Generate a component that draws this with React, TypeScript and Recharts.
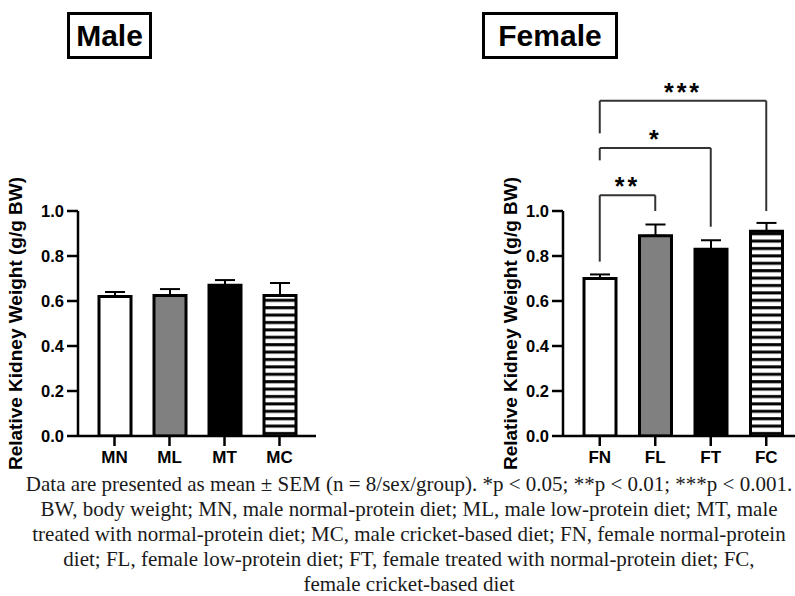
import React from 'react';
import { BarChart, Bar, Cell, XAxis, YAxis, ErrorBar, ReferenceLine } from 'recharts';

// values (mean, SEM)
const maleGroups = ['MN', 'ML', 'MT', 'MC'];
const maleMeans = [0.62, 0.625, 0.67, 0.625];
const maleSem = [0.02, 0.028, 0.023, 0.055];

const femaleGroups = ['FN', 'FL', 'FT', 'FC'];
const femaleMeans = [0.7, 0.89, 0.83, 0.91];
const femaleSem = [0.018, 0.05, 0.04, 0.037];

const yTicks = [0, 0.2, 0.4, 0.6, 0.8, 1.0];

// significance brackets (female panel)
const bracketFrom = ['FN', 'FN', 'FN'];
const bracketTo = ['FL', 'FT', 'FC'];
const bracketY = [1.07, 1.28, 1.49];
const bracketFromEnd = [0.775, 1.225, 1.345];
const bracketToEnd = [1.0, 0.93, 1.0];
const bracketLabels = ['**', '*', '***'];

const captionLines = [
  'Data are presented as mean \u00b1 SEM (n = 8/sex/group). *p < 0.05; **p < 0.01; ***p < 0.001.',
  'BW, body weight; MN, male normal-protein diet; ML, male low-protein diet; MT, male',
  'treated with normal-protein diet; MC, male cricket-based diet; FN, female normal-protein',
  'diet; FL, female low-protein diet; FT, female treated with normal-protein diet; FC,',
  'female cricket-based diet',
];

const FILLS = ['#ffffff', '#808080', '#000000', 'url(#hstripes)'];
const SANS = '"Liberation Sans", Arial, sans-serif';
const BRACKET = '#333333';

const tickStyle = { fill: '#000', fontSize: 16.5, fontWeight: 'bold', fontFamily: SANS };
const axisStyle = { stroke: '#000', strokeWidth: 2.5 };

type PanelProps = {
  groups: string[];
  means: number[];
  sems: number[];
  left: number;
  width: number;
  marginLeft: number;
  marginRight: number;
  padRight: number;
  labelDx: number;
  withBrackets?: boolean;
};

const Panel: React.FC<PanelProps> = ({
  groups, means, sems, left, width, marginLeft, marginRight, padRight, labelDx, withBrackets,
}) => {
  const data = groups.map((g, i) => ({ group: g, mean: means[i], err: [0, sems[i]] }));
  return (
    <div style={{ position: 'absolute', left, top: 60 }}>
      <BarChart
        width={width}
        height={420}
        data={data}
        margin={{ top: 151, right: marginRight, bottom: 14, left: marginLeft }}
      >
        <XAxis
          dataKey="group"
          padding={{ left: 9, right: padRight }}
          tick={{ ...tickStyle, fontSize: 17 }}
          tickSize={10}
          tickMargin={5}
          axisLine={axisStyle}
          tickLine={axisStyle}
          height={30}
        />
        <YAxis
          domain={[0, 1]}
          allowDataOverflow
          ticks={yTicks}
          tickFormatter={(v: number) => v.toFixed(1)}
          tick={tickStyle}
          tickSize={11}
          tickMargin={3}
          axisLine={axisStyle}
          tickLine={axisStyle}
          width={70}
          label={{
            value: 'Relative Kidney Weight (g/g BW)',
            angle: -90,
            position: 'insideLeft',
            dx: labelDx,
            fill: '#000',
            fontSize: 19,
            fontWeight: 'bold',
            fontFamily: SANS,
            style: { textAnchor: 'middle' },
          }}
        />
        <Bar dataKey="mean" barSize={32} stroke="#000" strokeWidth={3} isAnimationActive={false}>
          {data.map((_, i) => (
            <Cell key={i} fill={FILLS[i]} />
          ))}
          <ErrorBar dataKey="err" width={10} stroke="#000" strokeWidth={2} />
        </Bar>
        {withBrackets &&
          bracketLabels.map((lab, i) => [
            <ReferenceLine
              key={`h${i}`}
              ifOverflow="visible"
              stroke={BRACKET}
              strokeWidth={2}
              segment={[
                { x: bracketFrom[i], y: bracketY[i] },
                { x: bracketTo[i], y: bracketY[i] },
              ]}
              label={{
                value: lab,
                position: 'top',
                offset: 0,
                fill: '#000',
                fontSize: 25,
                fontWeight: 'bold',
                fontFamily: SANS,
                style: { letterSpacing: 3 },
              }}
            />,
            <ReferenceLine
              key={`l${i}`}
              ifOverflow="visible"
              stroke={BRACKET}
              strokeWidth={2}
              segment={[
                { x: bracketFrom[i], y: bracketY[i] },
                { x: bracketFrom[i], y: bracketFromEnd[i] },
              ]}
            />,
            <ReferenceLine
              key={`r${i}`}
              ifOverflow="visible"
              stroke={BRACKET}
              strokeWidth={2}
              segment={[
                { x: bracketTo[i], y: bracketY[i] },
                { x: bracketTo[i], y: bracketToEnd[i] },
              ]}
            />,
          ])}
      </BarChart>
    </div>
  );
};

const titleBox = (text: string, left: number, width: number) => (
  <div
    style={{
      position: 'absolute',
      left,
      top: 12,
      width,
      height: 47,
      boxSizing: 'border-box',
      border: '3px solid #000',
      fontFamily: SANS,
      fontWeight: 'bold',
      fontSize: 30,
      lineHeight: '41px',
      textAlign: 'center',
      color: '#000',
    }}
  >
    {text}
  </div>
);

export default function App() {
  return (
    <div
      style={{
        position: 'absolute',
        left: 0,
        top: 0,
        width: 795,
        height: 596,
        background: '#fff',
        overflow: 'hidden',
        fontFamily: SANS,
      }}
    >
      <svg width={0} height={0} style={{ position: 'absolute' }}>
        <defs>
          <pattern id="hstripes" patternUnits="userSpaceOnUse" width={8} height={7.4}>
            <rect width={8} height={7.4} fill="#fff" />
            <rect y={2} width={8} height={3} fill="#000" />
          </pattern>
        </defs>
      </svg>

      {titleBox('Male', 67, 85)}
      {titleBox('Female', 482, 136)}

      <Panel
        groups={maleGroups}
        means={maleMeans}
        sems={maleSem}
        left={0}
        width={330}
        marginLeft={8}
        marginRight={14}
        padRight={9}
        labelDx={2}
      />
      <Panel
        groups={femaleGroups}
        means={femaleMeans}
        sems={femaleSem}
        left={490}
        width={305}
        marginLeft={3}
        marginRight={0}
        padRight={1}
        labelDx={12}
        withBrackets
      />

      <div
        style={{
          position: 'absolute',
          left: 24,
          top: 472,
          width: 770,
          textAlign: 'center',
          fontFamily: '"Liberation Serif", "Times New Roman", serif',
          fontSize: 21,
          lineHeight: '25px',
          color: '#1a1a1a',
        }}
      >
        {captionLines.map((line, i) => (
          <div key={i} style={{ whiteSpace: 'nowrap' }}>
            {line}
          </div>
        ))}
      </div>
    </div>
  );
}
